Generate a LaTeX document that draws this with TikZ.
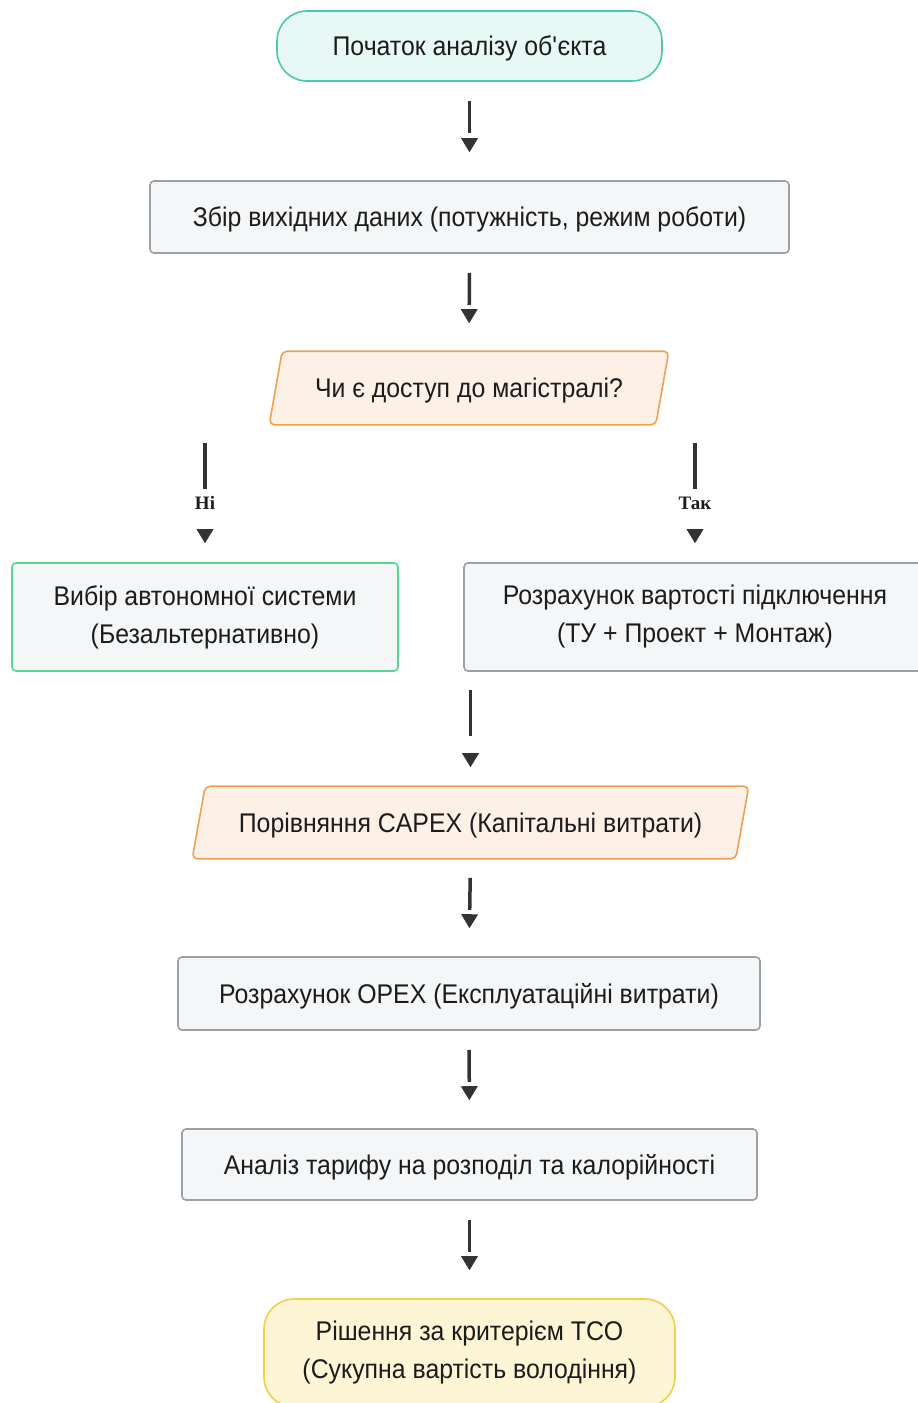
\documentclass[tikz,border=0pt]{standalone}
\usepackage{fontspec}
\setmainfont{Liberation Sans}[FakeStretch=0.92]
\newfontfamily\labfont{Liberation Serif}
\usetikzlibrary{arrows.meta,backgrounds,calc}
\definecolor{txt}{HTML}{1C1C1C}
\definecolor{arr}{HTML}{333333}
\definecolor{tealfill}{HTML}{E8F8F5}
\definecolor{tealline}{HTML}{48C9B0}
\definecolor{grayfill}{HTML}{F4F6F7}
\definecolor{grayline}{HTML}{9AA0A3}
\definecolor{orfill}{HTML}{FDF0E6}
\definecolor{orline}{HTML}{F0A050}
\definecolor{grline}{HTML}{58D68D}
\definecolor{yefill}{HTML}{FEF5D4}
\definecolor{yeline}{HTML}{F5CD4A}
\tikzset{
  base/.style={align=center, text=txt, font=\fontsize{27}{38}\selectfont, inner sep=0pt, line width=1.6pt},
  oneline/.style={text height=22pt, text depth=2.6pt},
  twolines/.style={minimum height=108pt},
  terminal/.style={base, rounded corners=30pt, minimum width=#1, minimum height=70pt},
  procbox/.style={base, rounded corners=4pt, draw=grayline, fill=grayfill, minimum width=#1, minimum height=72pt},
  decbox/.style={base, oneline, minimum width=#1, minimum height=72pt},
  para/.style={draw=orline, fill=orfill, line width=1.6pt, rounded corners=5pt},
  tipb/.style={-{Triangle[width=17pt,length=14pt,line width=0pt]}},
  conn/.style={draw=arr, line width=3.5pt, tipb, dash pattern=on 32pt off 200pt, shorten <=19pt, shorten >=28pt},
  branch/.style={draw=arr, line width=3.5pt, tipb, dash pattern=on 46pt off 200pt, shorten <=18pt, shorten >=19pt},
  lab/.style={font=\labfont\bfseries\fontsize{19}{21}\selectfont, text=txt, inner sep=0pt}
}
\begin{document}
\begin{tikzpicture}[x=1pt,y=-1pt]
\useasboundingbox (0,0) rectangle (918,1403);

\node[terminal=385pt, oneline, draw=tealline, fill=tealfill] (start) at (469.5,46) {Початок аналізу об\textquotesingle єкта};
\node[procbox=639pt, oneline] (collect) at (469.5,217) {Збір вихідних даних (потужність, режим роботи)};
\node[decbox=385pt] (q) at (469,388) {Чи є доступ до магістралі?};
\node[procbox=386pt, draw=grline, twolines] (auto) at (205,617) {Вибір автономної системи\\(Безальтернативно)};
\node[procbox=462pt, twolines] (conncost) at (695,617) {Розрахунок вартості підключення\\(ТУ + Проект + Монтаж)};
\node[decbox=542pt, minimum height=71pt] (capex) at (470.5,822.5) {Порівняння CAPEX (Капітальні витрати)};
\node[procbox=582pt, oneline, minimum height=73pt] (opex) at (469,993.5) {Розрахунок OPEX (Експлуатаційні витрати)};
\node[procbox=575pt, oneline, minimum height=71pt] (tariff) at (469.5,1164.5) {Аналіз тарифу на розподіл та калорійності};
\node[terminal=411pt, draw=yeline, fill=yefill, twolines] (finish) at (469.5,1353) {Рішення за критерієм TCO\\(Сукупна вартість володіння)};

\begin{scope}[on background layer]
  \fill[white] (0,0) rectangle (918,1403);
  \path[para] ($(q.north west)+(6.5,0)$) -- ($(q.north east)+(6.5,0)$) -- ($(q.south east)+(-6.5,0)$) -- ($(q.south west)+(-6.5,0)$) -- cycle;
  \path[para] ($(capex.north west)+(6.5,0)$) -- ($(capex.north east)+(6.5,0)$) -- ($(capex.south east)+(-6.5,0)$) -- ($(capex.south west)+(-6.5,0)$) -- cycle;
\end{scope}

\draw[conn] (start.south) -- (collect.north);
\draw[conn] (collect.south) -- (q.north);
\draw[branch] (auto.north |- q.south) -- (auto.north);
\draw[branch] (conncost.north |- q.south) -- (conncost.north);
\node[lab] (lno) at (205,503) {Ні};
\node[lab] (lyes) at (695,503) {Так};
\draw[branch] (capex.north |- conncost.south) -- (capex.north);
\draw[conn] (capex.south) -- (opex.north);
\draw[conn] (opex.south) -- (tariff.north);
\draw[conn] (tariff.south) -- (finish.north);
\end{tikzpicture}
\end{document}
